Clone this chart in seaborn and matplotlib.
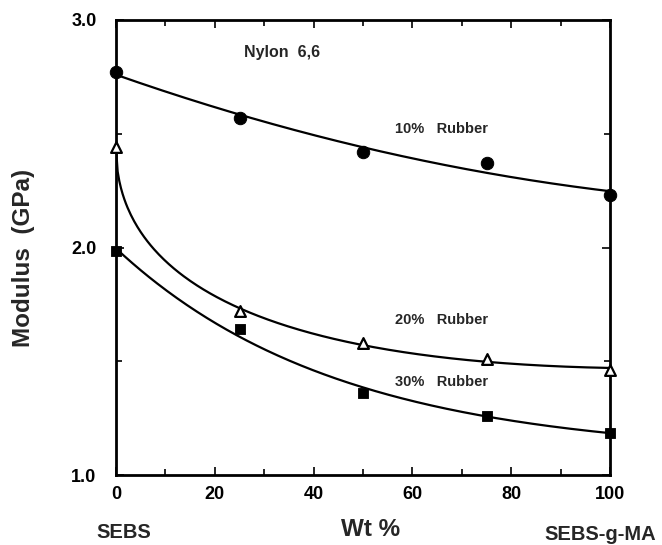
import numpy as np
import pandas as pd
import matplotlib
matplotlib.use("Agg")
import matplotlib.pyplot as plt
import seaborn as sns
from matplotlib.ticker import MultipleLocator, FixedLocator, FixedFormatter

# ---- data ----
wt_pct = [0, 25, 50, 75, 100]
rubber10 = [2.77, 2.57, 2.42, 2.37, 2.23]
rubber20 = [2.44, 1.72, 1.58, 1.51, 1.46]
rubber30 = [1.985, 1.64, 1.36, 1.26, 1.185]
series_labels = ["10%   Rubber", "20%   Rubber", "30%   Rubber"]
x_ticks = [0, 20, 40, 60, 80, 100]
y_ticks = [1.0, 2.0, 3.0]

sns.set_style("ticks")
plt.rcParams['font.family'] = ['Liberation Sans', 'DejaVu Sans']
plt.rcParams['font.weight'] = 'bold'

fig = plt.figure(figsize=(6.62, 5.45), dpi=100)
ax = fig.add_axes([116/662, 1-475/545, (610-116)/662, (475-20)/545])

xs = np.linspace(0, 100, 300)
x = np.array(wt_pct, float)
# smooth fits
c10 = np.polyfit(x, rubber10, 2)
fit10 = np.polyval(c10, xs)
c20 = np.polyfit(np.sqrt(x), rubber20, 2)
fit20 = np.polyval(c20, np.sqrt(xs))
c30 = np.polyfit(np.exp(-x / 45.0), rubber30, 1)
fit30 = np.polyval(c30, np.exp(-xs / 45.0))

curves = pd.DataFrame({"x": np.concatenate([xs, xs, xs]),
                       "y": np.concatenate([fit10, fit20, fit30]),
                       "s": np.repeat(series_labels, len(xs))})
sns.lineplot(data=curves, x="x", y="y", units="s", estimator=None,
             color="black", lw=1.6, ax=ax, legend=False)

sns.scatterplot(x=wt_pct, y=rubber10, marker="o", s=80, color="black",
                edgecolor="black", ax=ax, zorder=5, clip_on=False)
sns.scatterplot(x=wt_pct, y=rubber20, marker="^", s=60, facecolor="white",
                edgecolor="black", linewidth=1.6, ax=ax, zorder=5, clip_on=False)
sns.scatterplot(x=wt_pct, y=rubber30, marker="s", s=60, color="black",
                edgecolor="black", ax=ax, zorder=5, clip_on=False)

ax.set_xlim(0, 100)
ax.set_ylim(1.0, 3.0)
ax.xaxis.set_major_locator(FixedLocator(x_ticks))
ax.xaxis.set_minor_locator(MultipleLocator(10))
ax.yaxis.set_major_locator(FixedLocator(y_ticks))
ax.yaxis.set_major_formatter(FixedFormatter(["1.0", "2.0", "3.0"]))
ax.yaxis.set_minor_locator(MultipleLocator(0.5))
ax.tick_params(which="both", direction="in", top=True, right=True,
               labelsize=13, width=1.2, color="black", labelcolor="black")
ax.tick_params(which="major", length=6)
ax.tick_params(which="minor", length=4)
ax.tick_params(axis="x", pad=8)
ax.tick_params(axis="y", pad=14)
for lab in ax.get_xticklabels() + ax.get_yticklabels():
    lab.set_fontweight("bold")
for sp in ax.spines.values():
    sp.set_linewidth(2.0)
    sp.set_color("black")
    sp.set_visible(True)

ax.set_xlabel("")
ax.set_ylabel("Modulus  (GPa)", fontsize=17.5, fontweight="bold")
ax.yaxis.set_label_coords(-0.164, 0.477)
fig.text(371/662, 1-530/545, "Wt %", fontsize=17.5, fontweight="bold",
         ha="center", va="center")
fig.text(124/662, 1-532/545, "SEBS", fontsize=14.5, fontweight="bold",
         ha="center", va="center")
fig.text(600/662, 1-535/545, "SEBS-g-MA", fontsize=14.5, fontweight="bold",
         ha="center", va="center")

ax.text(282/662, 1-53/545, "Nylon  6,6", transform=fig.transFigure,
        fontsize=11.5, fontweight="bold", ha="center", va="center")
for lab, ypx in zip(series_labels, [129, 320, 382]):
    ax.text(395/662, 1-ypx/545, lab, transform=fig.transFigure,
            fontsize=10.5, fontweight="bold", ha="left", va="center")

fig.savefig("out.png", dpi=100)
